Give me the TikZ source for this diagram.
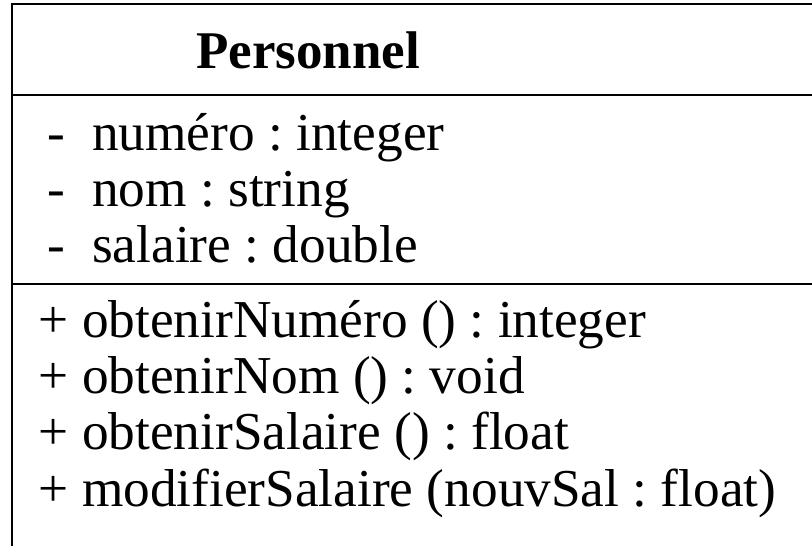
\documentclass[tikz,border=0pt]{standalone}
\usepackage{fontspec}
\setmainfont{Liberation Serif}
\frenchspacing
\begin{document}
\begin{tikzpicture}[x=1pt,y=1pt,
  classline/.style={line width=2.6pt,black},
  member/.style={anchor=base west,inner sep=0pt,font=\fontsize{53.3}{56}\selectfont},
  title/.style={anchor=base,inner sep=0pt,font=\fontsize{53}{56}\selectfont\bfseries}]
  \useasboundingbox (0,0) rectangle (812,-546);
  \begin{scope}
    \clip (0,0) rectangle (812,-546);
    % class frame, running past the right and bottom edges
    \draw[classline] (12,-4) rectangle (840,-580);
    \draw[classline] (12,-95) -- (840,-95);
    \draw[classline] (12,-284) -- (840,-284);
  \end{scope}
  % class name
  \node[title] (name) at (308,-68) {Personnel};
  % attributes
  \node[member] (a1) at (47,-150) {\makebox[45pt][l]{-}numéro : integer};
  \node[member] (a2) at (47,-206) {\makebox[45pt][l]{-}nom : string};
  \node[member] (a3) at (47,-262) {\makebox[45pt][l]{-}salaire : double};
  % operations
  \node[member] (m1) at (38.5,-337) {+ obtenirNuméro () : integer};
  \node[member] (m2) at (38.5,-393) {+ obtenirNom () : void};
  \node[member] (m3) at (38.5,-449) {+ obtenirSalaire () : float};
  \node[member] (m4) at (38.5,-506) {+ modifierSalaire (nouvSal : float)};
\end{tikzpicture}
\end{document}
